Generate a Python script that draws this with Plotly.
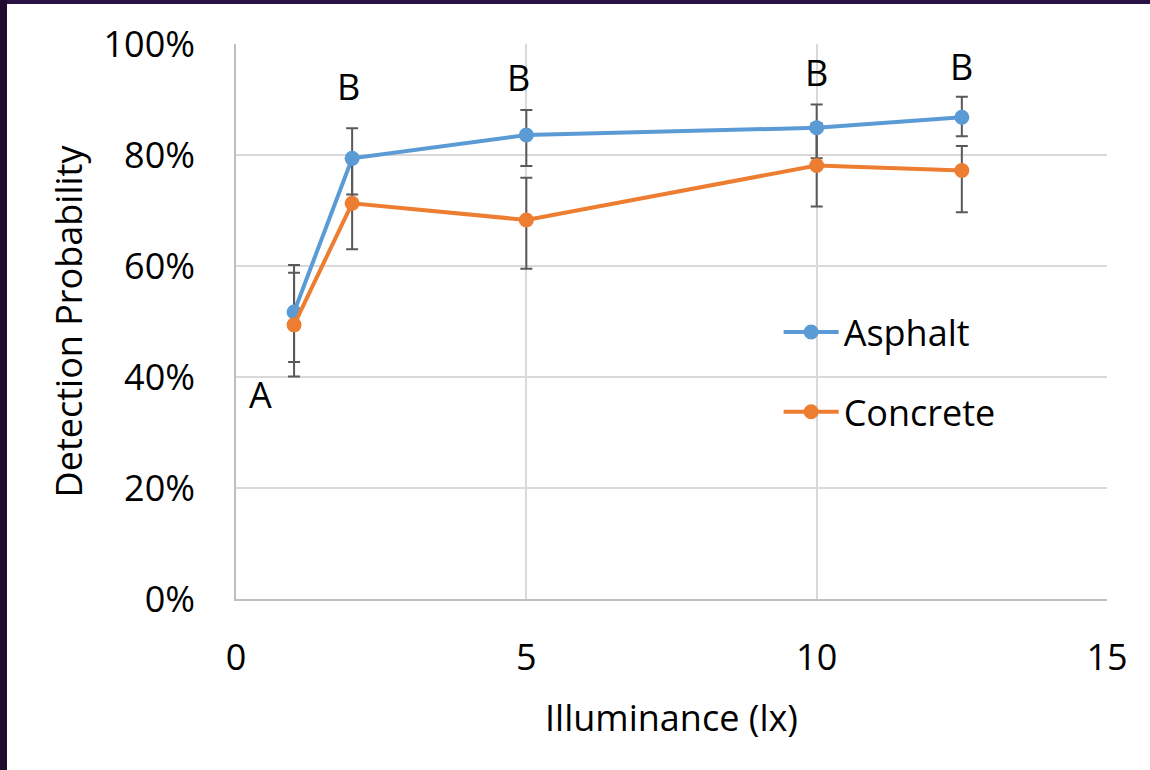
import plotly.graph_objects as go

# ---- data ----
illuminance = [1, 2, 5, 10, 12.5]
asphalt = [0.517, 0.794, 0.836, 0.849, 0.868]
asphalt_err_plus = [0.085, 0.054, 0.045, 0.042, 0.037]
asphalt_err_minus = [0.090, 0.065, 0.056, 0.055, 0.034]
concrete = [0.494, 0.713, 0.683, 0.781, 0.772]
concrete_err_plus = [0.094, 0.083, 0.076, 0.076, 0.044]
concrete_err_minus = [0.093, 0.083, 0.088, 0.074, 0.075]

letter_labels = ["A", "B", "B", "B", "B"]
letter_x = [0.43, 1.93, 4.86, 10.0, 12.5]
letter_y = [0.368, 0.924, 0.939, 0.948, 0.959]

BLUE = "#5B9BD5"
ORANGE = "#ED7D31"
ERR = "#595959"
FONT = "Open Sans"
FS = 36

fig = go.Figure()

# error bars first (drawn beneath all lines/markers)
for vals, ep, em in [(asphalt, asphalt_err_plus, asphalt_err_minus),
                     (concrete, concrete_err_plus, concrete_err_minus)]:
    fig.add_trace(go.Scatter(
        x=illuminance, y=vals, mode="markers",
        marker=dict(size=1, color="rgba(0,0,0,0)"),
        error_y=dict(type="data", symmetric=False, array=ep, arrayminus=em,
                     color=ERR, thickness=2, width=6),
        showlegend=False, hoverinfo="skip"))

fig.add_trace(go.Scatter(
    x=illuminance, y=asphalt, name="Asphalt", mode="lines+markers",
    line=dict(color=BLUE, width=4), marker=dict(color=BLUE, size=15),
    legendgroup="a"))
fig.add_trace(go.Scatter(
    x=illuminance, y=concrete, name="Concrete", mode="lines+markers",
    line=dict(color=ORANGE, width=4), marker=dict(color=ORANGE, size=15),
    legendgroup="c"))

for t, xv, yv in zip(letter_labels, letter_x, letter_y):
    fig.add_annotation(x=xv, y=yv, xref="x", yref="y", text=t, showarrow=False,
                       font=dict(family=FONT, size=FS, color="black"))

# dark frame strips at top and left edges of the picture
PW, PH = 871.0, 555.0
fig.add_shape(type="rect", xref="paper", yref="paper",
              x0=-236 / PW, x1=(1150 - 236) / PW,
              y0=1 + 40 / PH, y1=1 + 44 / PH,
              fillcolor="#2b1246", line=dict(width=0), layer="above")
fig.add_shape(type="rect", xref="paper", yref="paper",
              x0=-236 / PW, x1=-229 / PW,
              y0=-171 / PH, y1=1 + 44 / PH,
              fillcolor="#1f0c2c", line=dict(width=0), layer="above")

fig.update_layout(
    width=1150, height=770,
    margin=dict(l=236, r=43, t=44, b=171),
    paper_bgcolor="white", plot_bgcolor="white",
    font=dict(family=FONT, size=FS, color="black"),
    showlegend=True,
    legend=dict(x=0.623, y=0.535, xanchor="left", yanchor="top",
                bgcolor="rgba(0,0,0,0)", itemwidth=55,
                traceorder="grouped", tracegroupgap=30,
                font=dict(family=FONT, size=FS, color="black")),
)
fig.update_xaxes(range=[0, 15], dtick=5, tick0=0,
                 showgrid=True, gridcolor="#d9d9d9", gridwidth=1.5,
                 showline=True, linecolor="#bfbfbf", linewidth=1.5,
                 zeroline=False, ticks="", ticklabelstandoff=26,
                 title=dict(text="Illuminance (lx)", standoff=26,
                            font=dict(family=FONT, size=FS)))
fig.update_yaxes(range=[0, 1], dtick=0.2, tick0=0, tickformat=".0%",
                 showgrid=True, gridcolor="#d9d9d9", gridwidth=1.5,
                 showline=True, linecolor="#bfbfbf", linewidth=1.5,
                 zeroline=False, ticks="", ticklabelstandoff=32,
                 title=dict(text="Detection Probability", standoff=10,
                            font=dict(family=FONT, size=FS)))

fig.write_html("out.html")
